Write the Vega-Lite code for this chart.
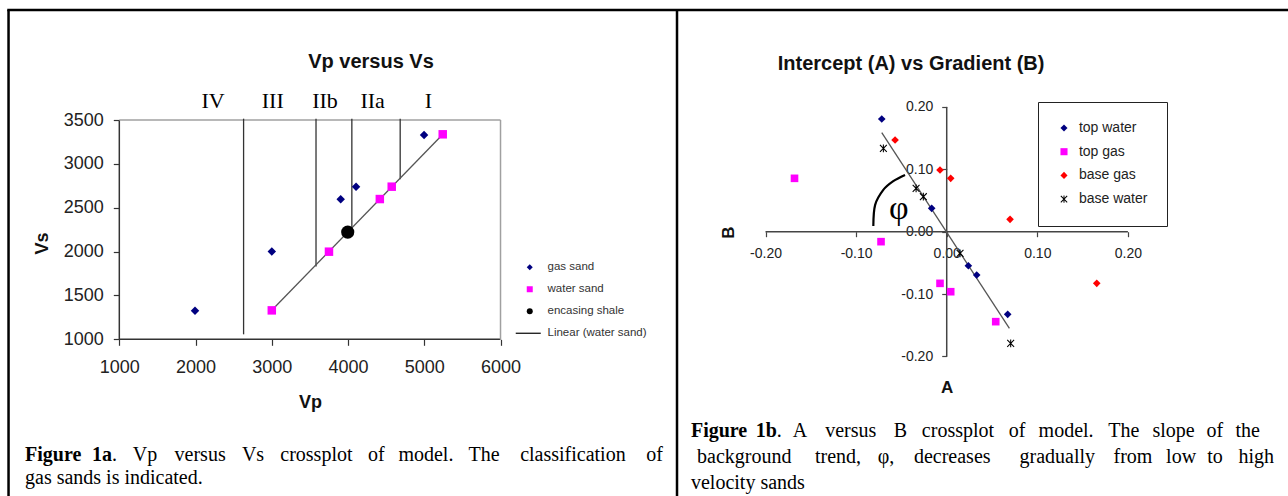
{
  "$schema": "https://vega.github.io/schema/vega-lite/v6.json",
  "padding": 0,
  "spacing": 0,
  "bounds": "flush",
  "background": "white",
  "config": {
    "view": {"stroke": null},
    "font": "Liberation Sans",
    "axis": {"labelFont": "Liberation Sans", "titleFont": "Liberation Sans"}
  },
  "resolve": {
    "scale": {"color": "independent", "shape": "independent"},
    "legend": {"color": "independent", "shape": "independent"}
  },
  "datasets": {
    "leftAxis": [{"x": 1000, "y": 1000, "x2": 1000, "y2": 3500}, {"x": 1000, "y": 1000, "x2": 6000, "y2": 1000}],
    "leftBorder": [{"x": 1000, "y": 3500, "x2": 6000, "y2": 3500}, {"x": 6000, "y": 1000, "x2": 6000, "y2": 3500}],
    "leftFrame": [{"x": -453, "y": -786, "x2": -453, "y2": 4754}, {"x": -470, "y": 4754, "x2": 8328, "y2": 4754}, {"x": 8315, "y": -786, "x2": 8315, "y2": 4754}],
    "classLines": [{"x": 2630, "y": 1057, "y2": 3515}, {"x": 3580, "y": 1830, "y2": 3515}, {"x": 4050, "y": 2227, "y2": 3515}, {"x": 4684, "y": 2824, "y2": 3515}],
    "trendL": [{"x": 3000, "y": 1331, "x2": 5250, "y2": 3343}],
    "sands": [
      {"Vp": 1993, "Vs": 1326, "series": "gas sand"},
      {"Vp": 3000, "Vs": 2000, "series": "gas sand"},
      {"Vp": 3904, "Vs": 2596, "series": "gas sand"},
      {"Vp": 4105, "Vs": 2740, "series": "gas sand"},
      {"Vp": 4997, "Vs": 3329, "series": "gas sand"},
      {"Vp": 3000, "Vs": 1330, "series": "water sand"},
      {"Vp": 3750, "Vs": 1999, "series": "water sand"},
      {"Vp": 4417, "Vs": 2599, "series": "water sand"},
      {"Vp": 4573, "Vs": 2740, "series": "water sand"},
      {"Vp": 5242, "Vs": 3337, "series": "water sand"}
    ],
    "shale": [{"Vp": 3996, "Vs": 2222}],
    "zones": [
      {"label": "IV", "Vp": 2229, "Vs": 3637},
      {"label": "III", "Vp": 3012, "Vs": 3637},
      {"label": "IIb", "Vp": 3698, "Vs": 3637},
      {"label": "IIa", "Vp": 4323, "Vs": 3637},
      {"label": "I", "Vp": 5053, "Vs": 3637}
    ],
    "capBoldL": [
      {"text": "Figure", "x": -237.1, "y": -387},
      {"text": "1a", "x": 641.7, "y": -387}
    ],
    "capLeftL": [
      {"text": ".", "x": 904.1, "y": -387},
      {"text": "gas sands is indicated.", "x": -237.1, "y": -649.2}
    ],
    "capCenterL": [
      {"text": "Vp", "x": 1337, "y": -387},
      {"text": "versus", "x": 2060, "y": -387},
      {"text": "Vs", "x": 2753.5, "y": -387},
      {"text": "crossplot", "x": 3585.1, "y": -387},
      {"text": "of", "x": 4372.1, "y": -387},
      {"text": "model.", "x": 5021.4, "y": -387},
      {"text": "The", "x": 5784.8, "y": -387},
      {"text": "classification", "x": 6949.6, "y": -387}
    ],
    "capRightL": [{"text": "of", "x": 8131.2, "y": -387}],
    "rightAxis": [{"x": -0.2, "y": 0, "x2": 0.2, "y2": 0}, {"x": 0, "y": -0.2, "x2": 0, "y2": 0.2}],
    "rightFrame": [{"x": -0.2966, "y": 0.3553, "x2": 0.3767, "y2": 0.3553}],
    "trendR": [{"x": -0.0717, "y": 0.1587, "x2": 0.0692, "y2": -0.155}],
    "arc": [
      {"A": -0.081, "B": 0.009},
      {"A": -0.079, "B": 0.043},
      {"A": -0.070, "B": 0.067},
      {"A": -0.059, "B": 0.081},
      {"A": -0.046, "B": 0.091}
    ],
    "phi": [{"text": "φ", "A": -0.053, "B": 0.037}],
    "ab": [
      {"A": -0.0717, "B": 0.1806, "series": "top water"},
      {"A": -0.0166, "B": 0.0374, "series": "top water"},
      {"A": 0.0239, "B": -0.0545, "series": "top water"},
      {"A": 0.0331, "B": -0.0694, "series": "top water"},
      {"A": 0.0673, "B": -0.1325, "series": "top water"},
      {"A": -0.168, "B": 0.0855, "series": "top gas"},
      {"A": -0.0725, "B": -0.016, "series": "top gas"},
      {"A": -0.0074, "B": -0.0828, "series": "top gas"},
      {"A": 0.0044, "B": -0.0962, "series": "top gas"},
      {"A": 0.0541, "B": -0.1442, "series": "top gas"},
      {"A": -0.057, "B": 0.147, "series": "base gas"},
      {"A": -0.0074, "B": 0.0988, "series": "base gas"},
      {"A": 0.0044, "B": 0.0855, "series": "base gas"},
      {"A": 0.0699, "B": 0.0198, "series": "base gas"},
      {"A": 0.1656, "B": -0.0828, "series": "base gas"},
      {"A": -0.0699, "B": 0.1335, "series": "base water"},
      {"A": -0.0338, "B": 0.0694, "series": "base water"},
      {"A": -0.0258, "B": 0.0561, "series": "base water"},
      {"A": 0.0147, "B": -0.0347, "series": "base water"},
      {"A": 0.0706, "B": -0.179, "series": "base water"}
    ],
    "capBoldR": [
      {"text": "Figure", "x": -0.2823, "y": -0.3291},
      {"text": "1b", "x": -0.2108, "y": -0.3291}
    ],
    "capLeftR": [
      {"text": ".", "x": -0.1875, "y": -0.3291},
      {"text": "background", "x": -0.2756, "y": -0.3707},
      {"text": "velocity sands", "x": -0.2823, "y": -0.4124}
    ],
    "capCenterR": [
      {"text": "A", "x": -0.1619, "y": -0.3291},
      {"text": "versus", "x": -0.1060, "y": -0.3291},
      {"text": "B", "x": -0.0510, "y": -0.3291},
      {"text": "crossplot", "x": 0.0124, "y": -0.3291},
      {"text": "of", "x": 0.0778, "y": -0.3291},
      {"text": "model.", "x": 0.1318, "y": -0.3291},
      {"text": "The", "x": 0.1954, "y": -0.3291},
      {"text": "slope", "x": 0.2504, "y": -0.3291},
      {"text": "of", "x": 0.2959, "y": -0.3291},
      {"text": "trend,", "x": -0.1200, "y": -0.3707},
      {"text": "φ,", "x": -0.0670, "y": -0.3707},
      {"text": "decreases", "x": 0.0061, "y": -0.3707},
      {"text": "gradually", "x": 0.1220, "y": -0.3707},
      {"text": "from", "x": 0.2056, "y": -0.3707},
      {"text": "low", "x": 0.2587, "y": -0.3707},
      {"text": "to", "x": 0.2961, "y": -0.3707}
    ],
    "capRightR": [
      {"text": "the", "x": 0.3458, "y": -0.3291},
      {"text": "high", "x": 0.3613, "y": -0.3707}
    ]
  },
  "hconcat": [
    {
      "width": 678,
      "height": 496,
      "title": {"text": "Vp versus Vs", "anchor": "middle", "dx": 32, "offset": -72, "fontSize": 20, "fontWeight": "bold", "font": "Liberation Sans", "color": "#111"},
      "layer": [
        {
          "data": {"name": "leftAxis"},
          "mark": {"type": "rule", "color": "#333", "strokeWidth": 1.5, "clip": false},
          "encoding": {
            "x": {"field": "x", "type": "quantitative",
              "scale": {"domain": [-565, 8328], "nice": false, "zero": false},
              "axis": {"values": [1000, 2000, 3000, 4000, 5000, 6000], "format": "d", "offset": -156.7, "domain": false, "grid": false,
                "tickSize": 6, "tickColor": "#333", "tickWidth": 1.2, "labelFontSize": 18, "labelColor": "#222", "labelPadding": 13,
                "labelOverlap": false, "labelFlush": false, "labelBound": false,
                "title": "Vp", "titleFontSize": 18, "titleFontWeight": "bold", "titleColor": "#111", "titleX": 310, "titleY": 63, "titleBaseline": "middle", "titleAlign": "center"}},
            "y": {"field": "y", "type": "quantitative",
              "scale": {"domain": [-786, 4868], "nice": false, "zero": false},
              "axis": {"values": [1000, 1500, 2000, 2500, 3000, 3500], "format": "d", "offset": -119.3, "domain": false, "grid": false,
                "tickSize": 6, "tickColor": "#333", "tickWidth": 1.2, "labelFontSize": 18, "labelColor": "#222", "labelPadding": 10,
                "labelOverlap": false, "labelFlush": false, "labelBound": false,
                "title": "Vs", "titleFontSize": 18, "titleFontWeight": "bold", "titleColor": "#111", "titleX": -77, "titleY": 243, "titleAngle": -90, "titleBaseline": "middle", "titleAlign": "center"}},
            "x2": {"field": "x2"},
            "y2": {"field": "y2"}
          }
        },
        {
          "data": {"name": "leftBorder"},
          "mark": {"type": "rule", "color": "#a0a0a0", "strokeWidth": 1.5},
          "encoding": {"x": {"field": "x", "type": "quantitative"}, "y": {"field": "y", "type": "quantitative"}, "x2": {"field": "x2"}, "y2": {"field": "y2"}}
        },
        {
          "data": {"name": "leftFrame"},
          "mark": {"type": "rule", "color": "#000", "strokeWidth": 2.5},
          "encoding": {"x": {"field": "x", "type": "quantitative"}, "y": {"field": "y", "type": "quantitative"}, "x2": {"field": "x2"}, "y2": {"field": "y2"}}
        },
        {
          "data": {"name": "classLines"},
          "mark": {"type": "rule", "color": "#333", "strokeWidth": 1.3},
          "encoding": {"x": {"field": "x", "type": "quantitative"}, "y": {"field": "y", "type": "quantitative"}, "y2": {"field": "y2"}}
        },
        {
          "data": {"name": "trendL"},
          "mark": {"type": "rule", "color": "#555", "strokeWidth": 1.3},
          "encoding": {"x": {"field": "x", "type": "quantitative"}, "y": {"field": "y", "type": "quantitative"}, "x2": {"field": "x2"}, "y2": {"field": "y2"}}
        },
        {
          "data": {"name": "sands"},
          "mark": {"type": "point", "filled": true, "opacity": 1, "size": 72},
          "encoding": {
            "x": {"field": "Vp", "type": "quantitative"},
            "y": {"field": "Vs", "type": "quantitative"},
            "color": {"field": "series", "type": "nominal",
              "scale": {"domain": ["gas sand", "water sand", "encasing shale", "Linear (water sand)"], "range": ["#000080", "#ff00ff", "#000000", "#000000"]},
              "legend": {"orient": "none", "legendX": 524, "legendY": 261.5, "title": null, "padding": 0, "symbolSize": 36,
                "labelFontSize": 11.5, "labelColor": "#333", "labelFont": "Liberation Sans", "labelOffset": 12, "rowPadding": 9, "symbolStrokeWidth": 0}},
            "shape": {"field": "series", "type": "nominal",
              "scale": {"domain": ["gas sand", "water sand", "encasing shale", "Linear (water sand)"], "range": ["diamond", "square", "circle", "M-4.67,-0.2H3.67V0.2H-4.67Z"]}}
          }
        },
        {
          "data": {"name": "shale"},
          "mark": {"type": "point", "filled": true, "opacity": 1, "size": 175, "shape": "circle", "color": "#000"},
          "encoding": {"x": {"field": "Vp", "type": "quantitative"}, "y": {"field": "Vs", "type": "quantitative"}}
        },
        {
          "data": {"name": "zones"},
          "mark": {"type": "text", "font": "Liberation Serif", "fontSize": 22, "align": "center", "baseline": "alphabetic", "color": "#000"},
          "encoding": {"x": {"field": "Vp", "type": "quantitative"}, "y": {"field": "Vs", "type": "quantitative"}, "text": {"field": "label"}}
        },
        {
          "data": {"name": "capBoldL"},
          "mark": {"type": "text", "font": "Liberation Serif", "fontSize": 20, "fontWeight": "bold", "align": "left", "baseline": "alphabetic", "color": "#000"},
          "encoding": {"x": {"field": "x", "type": "quantitative"}, "y": {"field": "y", "type": "quantitative"}, "text": {"field": "text"}}
        },
        {
          "data": {"name": "capLeftL"},
          "mark": {"type": "text", "font": "Liberation Serif", "fontSize": 20, "align": "left", "baseline": "alphabetic", "color": "#000"},
          "encoding": {"x": {"field": "x", "type": "quantitative"}, "y": {"field": "y", "type": "quantitative"}, "text": {"field": "text"}}
        },
        {
          "data": {"name": "capCenterL"},
          "mark": {"type": "text", "font": "Liberation Serif", "fontSize": 20, "align": "center", "baseline": "alphabetic", "color": "#000"},
          "encoding": {"x": {"field": "x", "type": "quantitative"}, "y": {"field": "y", "type": "quantitative"}, "text": {"field": "text"}}
        },
        {
          "data": {"name": "capRightL"},
          "mark": {"type": "text", "font": "Liberation Serif", "fontSize": 20, "align": "right", "baseline": "alphabetic", "color": "#000"},
          "encoding": {"x": {"field": "x", "type": "quantitative"}, "y": {"field": "y", "type": "quantitative"}, "text": {"field": "text"}}
        }
      ]
    },
    {
      "width": 610,
      "height": 496,
      "title": {"text": "Intercept (A) vs Gradient (B)", "anchor": "start", "dx": 101, "offset": -74, "fontSize": 20, "fontWeight": "bold", "font": "Liberation Sans", "color": "#111"},
      "layer": [
        {
          "data": {"name": "rightAxis"},
          "mark": {"type": "rule", "color": "#444", "strokeWidth": 1.5, "clip": false},
          "encoding": {
            "x": {"field": "x", "type": "quantitative",
              "scale": {"domain": [-0.2966, 0.3767], "nice": false, "zero": false},
              "axis": {"values": [-0.2, -0.1, 0, 0.1, 0.2], "labelExpr": "datum.value < 0 ? '-' + format(-datum.value, '.2f') : format(datum.value, '.2f')",
                "offset": -264.3, "domain": false, "grid": false, "tickSize": 5, "tickColor": "#444", "tickWidth": 1.2,
                "labelFontSize": 14, "labelColor": "#222", "labelPadding": 10, "labelOverlap": false, "labelFlush": false, "labelBound": false,
                "title": "A", "titleFontSize": 17, "titleFontWeight": "bold", "titleColor": "#111", "titleX": 268.7, "titleY": 156, "titleBaseline": "middle", "titleAlign": "center"}},
            "y": {"field": "y", "type": "quantitative",
              "scale": {"domain": [-0.4236, 0.3713], "nice": false, "zero": false},
              "axis": {"values": [-0.2, -0.1, 0, 0.1, 0.2], "labelExpr": "datum.value < 0 ? '-' + format(-datum.value, '.2f') : format(datum.value, '.2f')",
                "offset": -268.7, "domain": false, "grid": false, "tickSize": 5, "tickColor": "#444", "tickWidth": 1.2,
                "labelFontSize": 14, "labelColor": "#222", "labelPadding": 9, "labelOverlap": false, "labelFlush": false, "labelBound": false,
                "title": "B", "titleFontSize": 17, "titleFontWeight": "bold", "titleColor": "#111", "titleX": -218.7, "titleY": 232, "titleAngle": -90, "titleBaseline": "middle", "titleAlign": "center"}},
            "x2": {"field": "x2"},
            "y2": {"field": "y2"}
          }
        },
        {
          "data": {"name": "rightFrame"},
          "mark": {"type": "rule", "color": "#000", "strokeWidth": 2.5},
          "encoding": {"x": {"field": "x", "type": "quantitative"}, "y": {"field": "y", "type": "quantitative"}, "x2": {"field": "x2"}, "y2": {"field": "y2"}}
        },
        {
          "data": {"name": "trendR"},
          "mark": {"type": "rule", "color": "#555", "strokeWidth": 1.3},
          "encoding": {"x": {"field": "x", "type": "quantitative"}, "y": {"field": "y", "type": "quantitative"}, "x2": {"field": "x2"}, "y2": {"field": "y2"}}
        },
        {
          "data": {"name": "arc"},
          "mark": {"type": "line", "color": "#000", "strokeWidth": 2.2, "interpolate": "cardinal"},
          "encoding": {"x": {"field": "A", "type": "quantitative"}, "y": {"field": "B", "type": "quantitative"}}
        },
        {
          "data": {"name": "phi"},
          "mark": {"type": "text", "font": "Liberation Serif", "fontSize": 34, "align": "center", "baseline": "middle", "color": "#000"},
          "encoding": {"x": {"field": "A", "type": "quantitative"}, "y": {"field": "B", "type": "quantitative"}, "text": {"field": "text"}}
        },
        {
          "data": {"name": "ab"},
          "mark": {"type": "point", "filled": true, "opacity": 1, "size": 58},
          "encoding": {
            "x": {"field": "A", "type": "quantitative"},
            "y": {"field": "B", "type": "quantitative"},
            "color": {"field": "series", "type": "nominal",
              "scale": {"domain": ["top water", "top gas", "base gas", "base water"], "range": ["#000080", "#ff00ff", "#ff0000", "#000000"]},
              "legend": {"orient": "none", "legendX": 360, "legendY": 102, "title": null, "padding": 19, "symbolSize": 50, "symbolOffset": 0,
                "labelFontSize": 14, "labelColor": "#222", "labelFont": "Liberation Sans", "labelOffset": 7.9, "rowPadding": 9.7,
                "strokeColor": "#222", "fillColor": "#ffffff", "symbolStrokeWidth": 0}},
            "shape": {"field": "series", "type": "nominal",
              "scale": {"domain": ["top water", "top gas", "base gas", "base water"], "range": ["diamond", "square", "diamond", "M-1,-0.8L-0.8,-1L1,0.8L0.8,1ZM0.8,-1L1,-0.8L-0.8,1L-1,0.8ZM-0.14,-1H0.14V1H-0.14Z"]}}
          }
        },
        {
          "data": {"name": "capBoldR"},
          "mark": {"type": "text", "font": "Liberation Serif", "fontSize": 20, "fontWeight": "bold", "align": "left", "baseline": "alphabetic", "color": "#000"},
          "encoding": {"x": {"field": "x", "type": "quantitative"}, "y": {"field": "y", "type": "quantitative"}, "text": {"field": "text"}}
        },
        {
          "data": {"name": "capLeftR"},
          "mark": {"type": "text", "font": "Liberation Serif", "fontSize": 20, "align": "left", "baseline": "alphabetic", "color": "#000"},
          "encoding": {"x": {"field": "x", "type": "quantitative"}, "y": {"field": "y", "type": "quantitative"}, "text": {"field": "text"}}
        },
        {
          "data": {"name": "capCenterR"},
          "mark": {"type": "text", "font": "Liberation Serif", "fontSize": 20, "align": "center", "baseline": "alphabetic", "color": "#000"},
          "encoding": {"x": {"field": "x", "type": "quantitative"}, "y": {"field": "y", "type": "quantitative"}, "text": {"field": "text"}}
        },
        {
          "data": {"name": "capRightR"},
          "mark": {"type": "text", "font": "Liberation Serif", "fontSize": 20, "align": "right", "baseline": "alphabetic", "color": "#000"},
          "encoding": {"x": {"field": "x", "type": "quantitative"}, "y": {"field": "y", "type": "quantitative"}, "text": {"field": "text"}}
        }
      ]
    }
  ]
}
